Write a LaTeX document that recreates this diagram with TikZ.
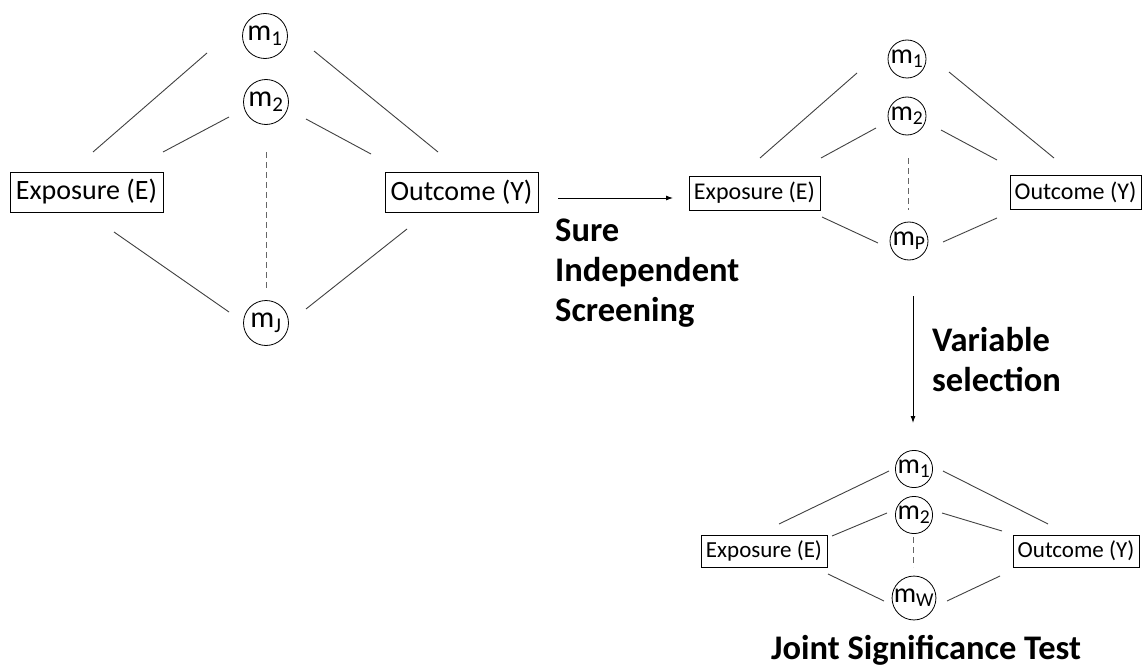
\documentclass[tikz,border=0pt]{standalone}
\usepackage{fontspec}
\setmainfont{Carlito}
\usetikzlibrary{calc,arrows.meta}

\begin{document}
\begin{tikzpicture}[x=1pt,y=-1pt,
  box/.style={draw=black,line width=0.8pt,rectangle,inner sep=0pt,
    minimum width=#1},
  mcirc/.style={draw=black,line width=0.8pt,circle,inner sep=0pt,
    minimum size=#1},
  link/.style={draw=black!75,line width=0.9pt},
  dlink/.style={draw=black!60,line width=0.9pt,dash pattern=on 6pt off 4pt},
  arr/.style={draw=black,line width=0.9pt,-{Latex[length=7pt,width=5pt]}},
  steplabel/.style={font=\fontsize{34.5}{40}\selectfont\bfseries,inner sep=0pt,
    align=left},
  bigf/.style={font=\fontsize{28}{33}\selectfont},
  midf/.style={font=\fontsize{24}{29}\selectfont},
  smallf/.style={font=\fontsize{23}{28}\selectfont},
  bigcircf/.style={font=\fontsize{30}{35}\selectfont},
  circf/.style={font=\fontsize{28}{33}\selectfont}
]
\useasboundingbox (0,0) rectangle (1144,669);

% ---------- full model: all J mediators ----------
\node[box=153pt,minimum height=40pt,bigf] (E1) at (86.5,192) {Exposure (E)};
\node[box=153pt,minimum height=40pt,bigf] (Y1) at (461.5,192) {Outcome (Y)};
\node[mcirc=45pt,bigcircf] (m1a) at (265,36) {m\textsubscript{1}};
\node[mcirc=45pt,bigcircf] (m2a) at (266,102) {m\textsubscript{2}};
\node[mcirc=45pt,bigcircf] (mJa) at (266,323) {m\textsubscript{J}};

\draw[link] ($(E1)+(6.5,-40)$) -- ($(m1a)+(-58,17)$);
\draw[link] ($(m1a)+(49,15)$) -- ($(Y1)+(-23.5,-40)$);
\draw[link] ($(E1)+(76.5,-40)$) -- ($(m2a)+(-37,15)$);
\draw[link] ($(m2a)+(40,17)$) -- ($(Y1)+(-90.5,-38)$);
\draw[dlink] ($(m2a)+(0,50)$) -- ($(mJa)+(0,-35)$);
\draw[link] ($(E1)+(27.5,40)$) -- ($(mJa)+(-37,-11)$);
\draw[link] ($(mJa)+(40,-14)$) -- ($(Y1)+(-54.5,37)$);

% ---------- after screening: P mediators ----------
\node[box=131pt,minimum height=34pt,midf] (E2) at (754.5,193) {Exposure (E)};
\node[box=131pt,minimum height=34pt,midf] (Y2) at (1075.5,192.5) {Outcome (Y)};
\node[mcirc=38pt,circf] (m1b) at (907,59) {m\textsubscript{1}};
\node[mcirc=38pt,circf] (m2b) at (907,116) {m\textsubscript{2}};
\node[mcirc=38pt,circf] (mPb) at (909,241) {m\textsubscript{P}};

\draw[link] ($(E2)+(5.5,-35)$) -- ($(m1b)+(-50,14)$);
\draw[link] ($(m1b)+(42,13)$) -- ($(Y2)+(-21.5,-34.5)$);
\draw[link] ($(E2)+(66.5,-35)$) -- ($(m2b)+(-31,12)$);
\draw[link] ($(m2b)+(34,14)$) -- ($(Y2)+(-78.5,-32.5)$);
\draw[dlink] ($(m2b)+(1,42)$) -- ($(mPb)+(-1,-31)$);
\draw[link] ($(E2)+(67.5,24)$) -- ($(mPb)+(-31,2)$);
\draw[link] ($(mPb)+(34,1)$) -- ($(Y2)+(-78.5,25.5)$);

% ---------- after selection: W mediators ----------
\node[box=126pt,minimum height=32pt,smallf] (E3) at (764,551) {Exposure (E)};
\node[box=126pt,minimum height=32pt,smallf] (Y3) at (1076,551) {Outcome (Y)};
\node[mcirc=37pt,circf] (m1c) at (914,469) {m\textsubscript{1}};
\node[mcirc=37pt,circf] (m2c) at (914,515) {m\textsubscript{2}};
\node[mcirc=37pt,circf] (mWc) at (914,598) {m\textsubscript{W}};

\draw[link] ($(E3)+(15,-27)$) -- ($(m1c)+(-25,2)$);
\draw[link] ($(m1c)+(29,2)$) -- ($(Y3)+(-28,-27)$);
\draw[link] ($(E3)+(68,-15)$) -- ($(m2c)+(-27,-2)$);
\draw[link] ($(m2c)+(28,-2)$) -- ($(Y3)+(-74,-20)$);
\draw[dlink] ($(m2c)+(-1,22)$) -- ($(mWc)+(-1,-31)$);
\draw[link] ($(E3)+(64,23)$) -- ($(mWc)+(-30,3)$);
\draw[link] ($(mWc)+(33,3)$) -- ($(Y3)+(-76,25)$);

% ---------- steps between the models ----------
\draw[arr] ($(Y1)+(96.5,6)$) -- ($(E2)+(-81.5,5)$);
\draw[arr] ($(mPb)+(4,55)$) -- ($(m1c)+(-1,-46)$);

% multi-line labels: the base anchor sits on the last line
\node[steplabel,anchor=base west] (sis) at (555,321)
  {Sure\\Independent\\Screening};
\node[steplabel,anchor=base west] (vs) at (932,391)
  {Variable\\selection};
\node[steplabel,anchor=base] (jst) at (926,659)
  {Joint Significance Test};
\end{tikzpicture}
\end{document}
